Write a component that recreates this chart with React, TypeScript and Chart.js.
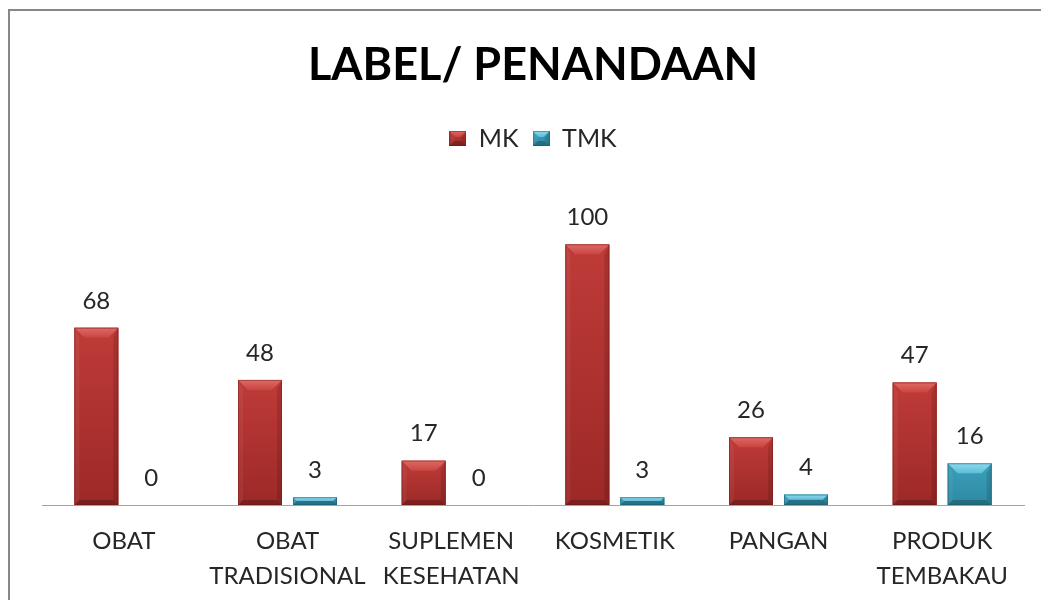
import React, { useEffect, useRef } from 'react';
import { Chart, registerables } from 'chart.js';

Chart.register(...registerables);

// ---- data ----
const TITLE = 'LABEL/ PENANDAAN';
const categories: string[][] = [
  ['OBAT'],
  ['OBAT', 'TRADISIONAL'],
  ['SUPLEMEN', 'KESEHATAN'],
  ['KOSMETIK'],
  ['PANGAN'],
  ['PRODUK', 'TEMBAKAU'],
];
const seriesNames = ['MK', 'TMK'];
const mkValues = [68, 48, 17, 100, 26, 47];
const tmkValues = [0, 3, 0, 3, 4, 16];

// ---- styles ----
type Pal = {
  base: string; bodyTop: string; bodyBottom: string; topLight: string; topDark: string;
  left: string; right: string; bottom: string; edge: string;
};
const RED: Pal = {
  base: '#B53331', bodyTop: '#BF3B38', bodyBottom: '#9C2927', topLight: '#DE6A65', topDark: '#C94541',
  left: 'rgba(255,255,255,0.05)', right: 'rgba(0,0,0,0.12)', bottom: 'rgba(0,0,0,0.22)', edge: 'rgba(110,25,23,0.45)',
};
const TEAL: Pal = {
  base: '#3699B3', bodyTop: '#3AA0BB', bodyBottom: '#2F89A2', topLight: '#8DD9EE', topDark: '#5FBED8',
  left: 'rgba(255,255,255,0.05)', right: 'rgba(0,0,0,0.12)', bottom: 'rgba(0,0,0,0.22)', edge: 'rgba(25,90,110,0.5)',
};
const palettes = [RED, TEAL];
const FONT = 'Lato, "Open Sans", "DejaVu Sans", sans-serif';
const TEXT = '#262626';

function poly(ctx: CanvasRenderingContext2D, pts: number[][], fill: string | CanvasGradient) {
  ctx.beginPath();
  ctx.moveTo(pts[0][0], pts[0][1]);
  for (let i = 1; i < pts.length; i++) ctx.lineTo(pts[i][0], pts[i][1]);
  ctx.closePath();
  ctx.fillStyle = fill;
  ctx.fill();
}

function drawBevel(ctx: CanvasRenderingContext2D, l: number, t: number, w: number, h: number, p: Pal, bev: number) {
  if (h <= 0 || w <= 0) return;
  const b = Math.min(bev, h / 2, w / 2);
  const r = l + w;
  const btm = t + h;
  let g = ctx.createLinearGradient(0, t, 0, btm);
  g.addColorStop(0, p.bodyTop);
  g.addColorStop(1, p.bodyBottom);
  ctx.fillStyle = g;
  ctx.fillRect(l, t, w, h);
  const sb = Math.min(b, 5);
  poly(ctx, [[l, t], [l + sb, t + b], [l + sb, btm - sb], [l, btm]], p.left);
  poly(ctx, [[r, t], [r - sb, t + b], [r - sb, btm - sb], [r, btm]], p.right);
  poly(ctx, [[l, btm], [l + sb, btm - sb], [r - sb, btm - sb], [r, btm]], p.bottom);
  g = ctx.createLinearGradient(0, t, 0, t + b);
  g.addColorStop(0, p.topLight);
  g.addColorStop(1, p.topDark);
  poly(ctx, [[l, t], [r, t], [r - b, t + b], [l + b, t + b]], g);
  ctx.strokeStyle = p.edge;
  ctx.lineWidth = 1;
  ctx.strokeRect(l + 0.5, t + 0.5, w - 1, h - 1);
}

function makeIcon(p: Pal): HTMLCanvasElement {
  const c = document.createElement('canvas');
  c.width = 17;
  c.height = 15;
  const ctx = c.getContext('2d')!;
  drawBevel(ctx, 0, 0, 17, 15, p, 6);
  return c;
}

const frame = {
  id: 'frame',
  beforeDraw(chart: any) {
    const ctx = chart.ctx as CanvasRenderingContext2D;
    ctx.save();
    ctx.fillStyle = '#ffffff';
    ctx.fillRect(0, 0, chart.width, chart.height);
    ctx.strokeStyle = '#878787';
    ctx.lineWidth = 2;
    ctx.beginPath();
    ctx.moveTo(9, chart.height);
    ctx.lineTo(9, 10);
    ctx.lineTo(chart.width, 10);
    ctx.stroke();
    ctx.restore();
  },
};

const bevelBars = {
  id: 'bevelBars',
  afterDatasetsDraw(chart: any) {
    const ctx = chart.ctx as CanvasRenderingContext2D;
    ctx.save();
    chart.data.datasets.forEach((ds: any, di: number) => {
      const meta = chart.getDatasetMeta(di);
      meta.data.forEach((el: any, i: number) => {
        const { x, y, base, width } = el.getProps(['x', 'y', 'base', 'width'], true);
        const top = Math.min(y, base);
        const h = Math.abs(base - y);
        drawBevel(ctx, x - width / 2, top, width, h, palettes[di], 10);
        ctx.fillStyle = TEXT;
        ctx.font = `24px ${FONT}`;
        ctx.textAlign = 'center';
        ctx.textBaseline = 'middle';
        ctx.fillText(String(ds.data[i]), x, top - 27);
      });
    });
    ctx.restore();
  },
};

export default function App() {
  const ref = useRef<HTMLCanvasElement>(null);
  useEffect(() => {
    if (!ref.current) return;
    const icons = palettes.map(makeIcon);
    const chart = new Chart(ref.current, {
      type: 'bar',
      data: {
        labels: categories,
        datasets: [
          { label: seriesNames[0], data: mkValues, backgroundColor: RED.base, borderWidth: 0 },
          { label: seriesNames[1], data: tmkValues, backgroundColor: TEAL.base, borderWidth: 0 },
        ],
      },
      options: {
        responsive: false,
        animation: false,
        events: [],
        datasets: { bar: { categoryPercentage: 0.672, barPercentage: 0.8 } },
        layout: { padding: { left: 42, right: 17, top: 0, bottom: 0 } },
        plugins: {
          title: {
            display: true,
            text: TITLE,
            color: '#000000',
            font: { family: FONT, size: 45, weight: 'bold', lineHeight: 1.2 },
            padding: { top: 38, bottom: 20 },
          },
          legend: {
            position: 'top',
            labels: {
              usePointStyle: true,
              boxWidth: 17,
              boxHeight: 15,
              padding: 14,
              color: TEXT,
              font: { family: FONT, size: 25 },
              generateLabels: (c: any) =>
                c.data.datasets.map((ds: any, i: number) => ({
                  text: ds.label,
                  fillStyle: palettes[i].base,
                  strokeStyle: palettes[i].base,
                  lineWidth: 0,
                  pointStyle: icons[i],
                  datasetIndex: i,
                  hidden: false,
                  fontColor: TEXT,
                })),
            },
          },
          tooltip: { enabled: false },
        },
        scales: {
          x: {
            grid: { display: false, drawTicks: false },
            border: { display: true, color: '#a3a3a3', width: 1 },
            ticks: {
              color: TEXT,
              font: { family: FONT, size: 24, lineHeight: '35px' },
              padding: 19,
              maxRotation: 0,
              autoSkip: false,
            },
            afterFit: (s: any) => {
              s.height = 95;
            },
          },
          y: { display: false, min: 0, max: 132 },
        },
      },
      plugins: [frame, bevelBars],
    } as any);
    const fonts: any = (document as any).fonts;
    if (fonts && fonts.load) {
      Promise.all([fonts.load(`bold 45px Lato`), fonts.load(`24px Lato`)]).then(() => chart.update()).catch(() => {});
    }
    return () => chart.destroy();
  }, []);
  return (
    <div style={{ position: 'fixed', left: 0, top: 0, width: 1041, height: 600, background: '#fff' }}>
      <canvas ref={ref} width={1041} height={600} style={{ display: 'block' }} />
    </div>
  );
}
